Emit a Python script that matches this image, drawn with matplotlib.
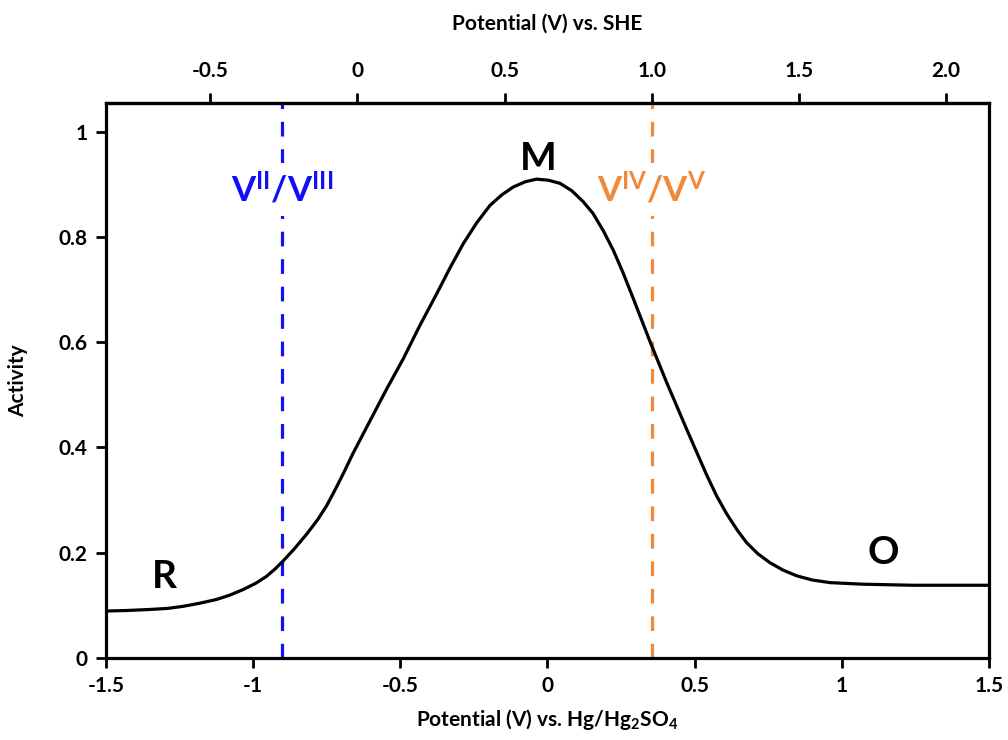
import matplotlib
matplotlib.use("Agg")
from matplotlib import pyplot as plt

plt.rcParams["font.family"] = ["Lato", "DejaVu Sans"]
plt.rcParams["font.weight"] = "bold"
plt.rcParams["axes.labelweight"] = "bold"
plt.rcParams["mathtext.fontset"] = "custom"
plt.rcParams["mathtext.rm"] = "Lato:bold"
plt.rcParams["mathtext.bf"] = "Lato:bold"
plt.rcParams["mathtext.default"] = "bf"

# activity curve (potential vs Hg/Hg2SO4)
potential = [-1.50, -1.43, -1.35, -1.29, -1.237, -1.18, -1.124, -1.08, -1.033,
             -0.99, -0.954, -0.925, -0.898, -0.86, -0.818, -0.78, -0.75, -0.716,
             -0.69, -0.66, -0.603, -0.546, -0.49, -0.433, -0.376, -0.33, -0.286,
             -0.24, -0.195, -0.155, -0.116, -0.075, -0.037, 0.003, 0.043, 0.083,
             0.122, 0.155, 0.19, 0.224, 0.258, 0.292, 0.349, 0.405, 0.473, 0.541,
             0.575, 0.609, 0.645, 0.677, 0.715, 0.756, 0.80, 0.847, 0.90, 0.96,
             1.073, 1.243, 1.50]
activity = [0.089, 0.090, 0.092, 0.094, 0.098, 0.104, 0.111, 0.119, 0.130,
            0.142, 0.155, 0.169, 0.184, 0.207, 0.235, 0.263, 0.289, 0.325,
            0.354, 0.389, 0.450, 0.511, 0.568, 0.632, 0.692, 0.742, 0.787,
            0.827, 0.860, 0.880, 0.895, 0.905, 0.910, 0.908, 0.902, 0.888,
            0.867, 0.845, 0.812, 0.775, 0.731, 0.683, 0.601, 0.524, 0.435, 0.348,
            0.308, 0.274, 0.243, 0.219, 0.198, 0.181, 0.167, 0.156, 0.148, 0.143,
            0.140, 0.138, 0.138]

she_offset = 0.645  # Hg/Hg2SO4 vs SHE
couple_she = [-0.255, 1.00]
couple_labels = [r"V$^{II}$/V$^{III}$", r"V$^{IV}$/V$^{V}$"]
couple_colors = ["#1010F5", "#F08A3A"]

region_labels = ["R", "M", "O"]
region_pos = [(-1.30, 0.155), (-0.03, 0.95), (1.14, 0.20)]

she_ticks = [-0.5, 0, 0.5, 1.0, 1.5, 2.0]
she_ticklabels = ["-0.5", "0", "0.5", "1.0", "1.5", "2.0"]
hg_ticks = [-1.5, -1, -0.5, 0, 0.5, 1, 1.5]
hg_ticklabels = ["-1.5", "-1", "-0.5", "0", "0.5", "1", "1.5"]
y_ticks = [0, 0.2, 0.4, 0.6, 0.8, 1]
y_ticklabels = ["0", "0.2", "0.4", "0.6", "0.8", "1"]

fig = plt.figure(figsize=(10.08, 7.4), dpi=100)
ax = fig.add_axes([0.105, 0.111, 0.876, 0.750])

for e, lab, c in zip(couple_she, couple_labels, couple_colors):
    x = e - she_offset
    ax.plot([x, x], [0, 1.06], color=c, lw=2.3, dashes=(4.6, 4.0), zorder=1)
    ax.text(x, 0.89, lab, color=c, fontsize=25, ha="center", va="center",
            zorder=2, bbox=dict(fc="white", ec="none", pad=6))

ax.plot(potential, activity, color="k", lw=2.3, solid_joinstyle="round",
        solid_capstyle="round", zorder=3)

for lab, (px, py) in zip(region_labels, region_pos):
    ax.text(px, py, lab, fontsize=28, ha="center", va="center")

ax.set_xlim(-1.5, 1.5)
ax.set_ylim(0, 1.055)
ax.set_xticks(hg_ticks)
ax.set_xticklabels(hg_ticklabels)
ax.set_yticks(y_ticks)
ax.set_yticklabels(y_ticklabels)
ax.tick_params(direction="out", length=7, width=2, labelsize=15, pad=6)
for s in ax.spines.values():
    s.set_linewidth(2.3)
ax.set_xlabel(r"Potential (V) vs. Hg/Hg$_2$SO$_4$", fontsize=15, labelpad=8)
ax.set_ylabel("Activity", fontsize=15, labelpad=22)

top = ax.secondary_xaxis("top", functions=(lambda v: v + she_offset,
                                            lambda v: v - she_offset))
top.set_xticks(she_ticks)
top.set_xticklabels(she_ticklabels)
top.tick_params(direction="out", length=7, width=2, labelsize=15, pad=9)
top.spines["top"].set_linewidth(2.3)
top.set_xlabel("Potential (V) vs. SHE", fontsize=15, labelpad=22)

fig.savefig("out.png", dpi=100)
